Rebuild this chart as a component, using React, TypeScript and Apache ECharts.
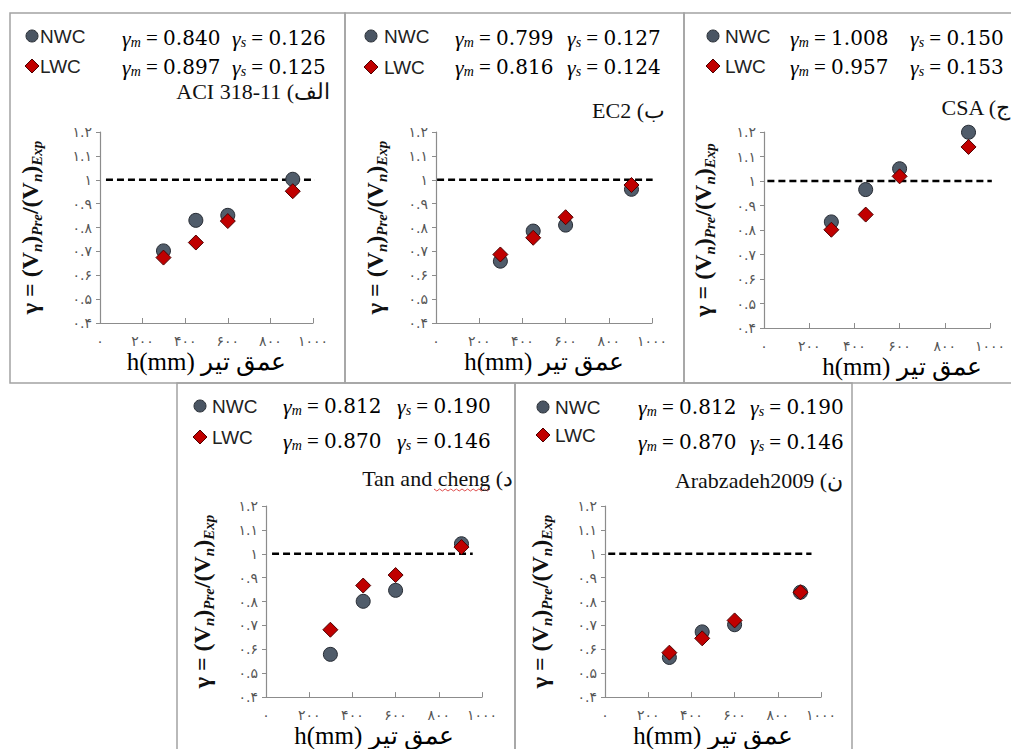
import React, { useEffect, useRef } from 'react';
import * as echarts from 'echarts';

// ---------------- data ----------------
const depths = [298, 450, 600, 905]; // h (mm)

const panelTitles = ['ACI 318-11 (الف', 'EC2 (ب', 'CSA (ج', 'Tan and cheng (د', 'Arabzadeh2009 (ن'];

const nwcACI = [0.702, 0.83, 0.851, 1.002];
const lwcACI = [0.674, 0.737, 0.827, 0.952];
const nwcEC2 = [0.659, 0.785, 0.81, 0.96];
const lwcEC2 = [0.687, 0.757, 0.843, 0.978];
const nwcCSA = [0.833, 0.965, 1.05, 1.199];
const lwcCSA = [0.801, 0.863, 1.019, 1.139];
const nwcTan = [0.579, 0.801, 0.847, 1.042];
const lwcTan = [0.682, 0.867, 0.911, 1.028];
const nwcArab = [0.566, 0.673, 0.703, 0.839];
const lwcArab = [0.586, 0.646, 0.721, 0.839];

const nwcValues = [nwcACI, nwcEC2, nwcCSA, nwcTan, nwcArab];
const lwcValues = [lwcACI, lwcEC2, lwcCSA, lwcTan, lwcArab];

// reference line gamma = 1, x extent per panel
const refLineLevel = 1;
const refLineSpan = [[28, 1033], [5, 1003], [15, 1008], [28, 957], [15, 956]];

// statistics [gamma_m, gamma_s]
const statsNWC = [['0.840', '0.126'], ['0.799', '0.127'], ['1.008', '0.150'], ['0.812', '0.190'], ['0.812', '0.190']];
const statsLWC = [['0.897', '0.125'], ['0.816', '0.124'], ['0.957', '0.153'], ['0.870', '0.146'], ['0.870', '0.146']];

const legendNames = ['NWC', 'LWC'];
const xTickValues = [0, 200, 400, 600, 800, 1000];
const xTickLabels = ['۰', '۲۰۰', '۴۰۰', '۶۰۰', '۸۰۰', '۱۰۰۰'];
const yTickValues = [0.4, 0.5, 0.6, 0.7, 0.8, 0.9, 1.0, 1.1, 1.2];
const yTickLabels = ['۰.۴', '۰.۵', '۰.۶', '۰.۷', '۰.۸', '۰.۹', '۱', '۱.۱', '۱.۲'];
const xAxisTitle = 'h(mm) عمق تیر';

// ---------------- layout ----------------
type Panel = {
  box: number[];
  grid: number[];
  yGap: number;
  xGap: number;
  xPadL: number;
  mark: number;
  markText: number;
  legY: number[];
  statX: number[];
  statY: number[];
  titleX: number;
  titleY: number;
};

const panels: Panel[] = [
  { box: [10, 13, 345, 383], grid: [100, 132, 213, 191], yGap: 56, xGap: 26, xPadL: 0, mark: 32, markText: 40, legY: [36, 66], statX: [122, 232], statY: [38, 67], titleX: 330, titleY: 91 },
  { box: [345, 13, 684, 383], grid: [436, 132, 216, 191], yGap: 47, xGap: 20, xPadL: 0, mark: 371, markText: 384, legY: [36, 67], statX: [455, 567], statY: [38, 67], titleX: 665, titleY: 110 },
  { box: [684, 13, 1020, 383], grid: [764, 132, 226, 196], yGap: 47, xGap: 14, xPadL: 50, mark: 713, markText: 725, legY: [36, 66], statX: [790, 910], statY: [38, 67], titleX: 1010, titleY: 107 },
  { box: [177, 383, 515, 760], grid: [266, 506, 216, 194], yGap: 50, xGap: 22, xPadL: 0, mark: 200, markText: 212, legY: [406, 437], statX: [283, 397], statY: [406, 441], titleX: 513, titleY: 478 },
  { box: [515, 383, 852, 760], grid: [605, 506, 216, 193], yGap: 51, xGap: 23, xPadL: 0, mark: 543, markText: 555, legY: [407, 435], statX: [638, 750], statY: [407, 442], titleX: 843, titleY: 480 },
];

const NWC_COLOR = '#505c6a';
const LWC_COLOR = '#c00000';
const AXIS_COLOR = '#8c8c8c';
const LABEL_COLOR = '#555555';
const SERIF = '"Liberation Serif", "Times New Roman", serif';
const MATH = '"DejaVu Serif", serif';

const statRich = {
  g: { fontFamily: SERIF, fontStyle: 'italic', fontSize: 22, lineHeight: 22, color: '#111' },
  s: { fontFamily: SERIF, fontStyle: 'italic', fontSize: 14, lineHeight: 13, verticalAlign: 'bottom', color: '#111' },
  e: { fontFamily: SERIF, fontSize: 21, lineHeight: 22, color: '#111' },
  t: { fontFamily: MATH, fontSize: 20, lineHeight: 22, color: '#111' },
};

const yNameRich = {
  b: { fontFamily: SERIF, fontWeight: 'bold', fontSize: 24, lineHeight: 28, color: '#111' },
  sub: { fontFamily: SERIF, fontWeight: 'bold', fontStyle: 'italic', fontSize: 15, lineHeight: 16, verticalAlign: 'bottom', color: '#111' },
};
const yAxisName = '{b|γ = (V}{sub|n}{b|)}{sub|Pre}{b|/(V}{sub|n}{b|)}{sub|Exp}';

function lookup(values: number[], labels: string[], v: number) {
  let best = 0;
  for (let i = 1; i < values.length; i++) {
    if (Math.abs(values[i] - v) < Math.abs(values[best] - v)) best = i;
  }
  return labels[best];
}

function buildOption() {
  const grid: any[] = [];
  const xAxis: any[] = [];
  const yAxis: any[] = [];
  const series: any[] = [];
  const graphic: any[] = [];

  panels.forEach((p, i) => {
    grid.push({ left: p.grid[0], top: p.grid[1], width: p.grid[2], height: p.grid[3], containLabel: false });
    xAxis.push({
      type: 'value', gridIndex: i, min: 0, max: 1000, interval: 200,
      name: xAxisTitle, nameLocation: 'middle', nameGap: p.xGap,
      nameTextStyle: { fontFamily: SERIF, fontSize: 25, color: '#000', padding: [0, 0, 0, p.xPadL] },
      axisLine: { show: true, onZero: false, lineStyle: { color: AXIS_COLOR, width: 1.2 } },
      axisTick: { show: true, inside: true, length: 5, lineStyle: { color: AXIS_COLOR } },
      axisLabel: {
        show: true, margin: 11, color: LABEL_COLOR, fontSize: 14, fontFamily: '"DejaVu Sans", sans-serif',
        formatter: (v: number) => lookup(xTickValues, xTickLabels, v),
      },
      splitLine: { show: false },
    });
    yAxis.push({
      type: 'value', gridIndex: i, min: 0.4, max: 1.2, interval: 0.1,
      name: yAxisName, nameLocation: 'middle', nameGap: p.yGap,
      nameTextStyle: { rich: yNameRich },
      axisLine: { show: true, onZero: false, lineStyle: { color: AXIS_COLOR, width: 1.2 } },
      axisTick: { show: true, inside: false, length: 4, lineStyle: { color: AXIS_COLOR } },
      axisLabel: {
        show: true, margin: 8, color: LABEL_COLOR, fontSize: 14, fontFamily: '"DejaVu Sans", sans-serif',
        formatter: (v: number) => lookup(yTickValues, yTickLabels, v),
      },
      splitLine: { show: false },
    });
    series.push({
      type: 'line', xAxisIndex: i, yAxisIndex: i, clip: false, silent: true, symbol: 'none', z: 2,
      data: refLineSpan[i].map((x) => [x, refLineLevel]),
      lineStyle: { color: '#000', width: 2.4, type: [7, 4] },
    });
    series.push({
      type: 'scatter', name: legendNames[0], xAxisIndex: i, yAxisIndex: i, symbol: 'circle', symbolSize: 14, z: 3,
      data: depths.map((d, k) => [d, nwcValues[i][k]]),
      itemStyle: { color: NWC_COLOR, borderColor: '#262b33', borderWidth: 1, opacity: 1 },
    });
    series.push({
      type: 'scatter', name: legendNames[1], xAxisIndex: i, yAxisIndex: i, symbol: 'diamond', symbolSize: 15, z: 4,
      data: depths.map((d, k) => [d, lwcValues[i][k]]),
      itemStyle: { color: LWC_COLOR, borderColor: '#4d0000', borderWidth: 1, opacity: 1 },
    });

    // panel frame
    graphic.push({
      type: 'rect', z: 0, silent: true,
      shape: { x: p.box[0], y: p.box[1], width: p.box[2] - p.box[0], height: p.box[3] - p.box[1] },
      style: { fill: 'none', stroke: '#a3a3a3', lineWidth: 1.5 },
    });
    // legend
    graphic.push({
      type: 'circle', z: 10, shape: { cx: p.mark, cy: p.legY[0], r: 6 },
      style: { fill: '#4a5563', stroke: '#2a2f36', lineWidth: 1 },
    });
    graphic.push({
      type: 'polygon', z: 10,
      shape: { points: [[p.mark, p.legY[1] - 7], [p.mark + 7, p.legY[1]], [p.mark, p.legY[1] + 7], [p.mark - 7, p.legY[1]]] },
      style: { fill: LWC_COLOR, stroke: '#4d0000', lineWidth: 1 },
    });
    legendNames.forEach((n, k) => {
      graphic.push({
        type: 'text', z: 10, x: p.markText, y: p.legY[k],
        style: { text: n, fontFamily: '"Liberation Sans", Arial, sans-serif', fontSize: 19, fill: '#222', align: 'left', verticalAlign: 'middle' },
      });
    });
    // statistics
    [statsNWC[i], statsLWC[i]].forEach((st, k) => {
      graphic.push({
        type: 'text', z: 10, x: p.statX[0], y: p.statY[k],
        style: { text: `{g|γ}{s|m}{e| = }{t|${st[0]}}`, rich: statRich, align: 'left', verticalAlign: 'middle' },
      });
      graphic.push({
        type: 'text', z: 10, x: p.statX[1], y: p.statY[k],
        style: { text: `{g|γ}{s|s}{e| = }{t|${st[1]}}`, rich: statRich, align: 'left', verticalAlign: 'middle' },
      });
    });
    // title
    graphic.push({
      type: 'text', z: 10, x: p.titleX, y: p.titleY,
      style: { text: panelTitles[i], fontFamily: SERIF, fontSize: 22, fill: '#111', align: 'right', verticalAlign: 'middle' },
    });
  });

  // spell-check squiggle under "cheng"
  const squiggle: number[][] = [];
  for (let k = 0; k <= 20; k++) squiggle.push([434 + k * 2.8, 489 + (k % 2 === 0 ? 0 : 2)]);
  graphic.push({ type: 'polyline', z: 9, silent: true, shape: { points: squiggle }, style: { stroke: '#e05050', lineWidth: 1, fill: 'none' } });

  return {
    animation: false,
    backgroundColor: '#ffffff',
    grid, xAxis, yAxis, series, graphic,
  };
}

export default function App() {
  const ref = useRef<HTMLDivElement>(null);
  useEffect(() => {
    if (!ref.current) return;
    const chart = echarts.init(ref.current, undefined, { renderer: 'svg' });
    chart.setOption(buildOption() as any);
    return () => chart.dispose();
  }, []);
  return (
    <div
      ref={ref}
      style={{ position: 'fixed', left: 0, top: 0, width: 1011, height: 749, background: '#fff' }}
    />
  );
}
